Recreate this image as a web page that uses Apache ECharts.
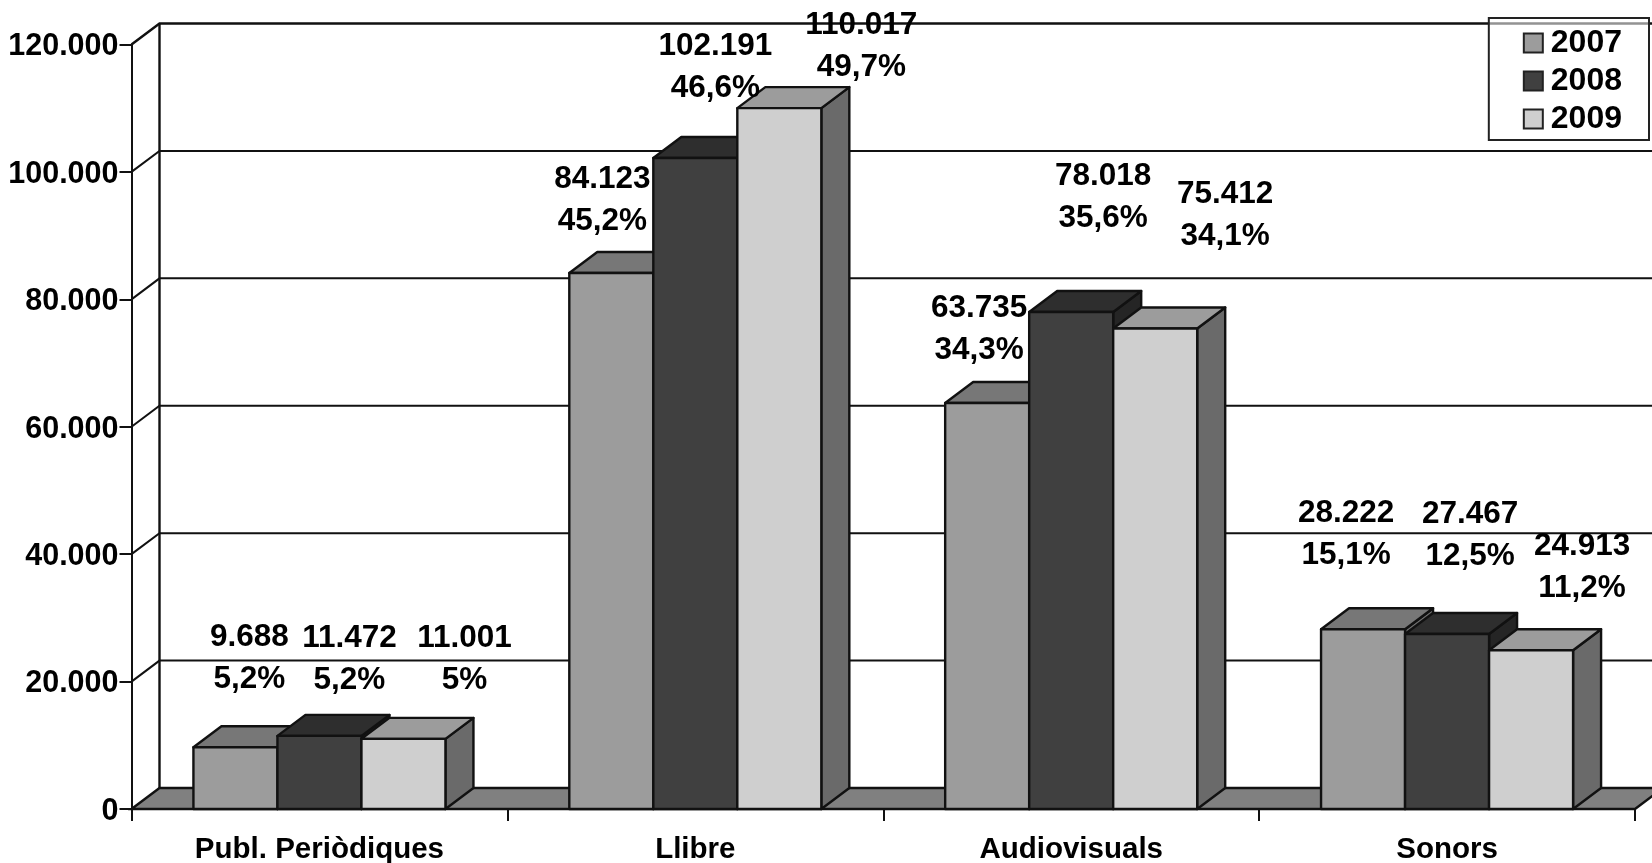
<!DOCTYPE html>
<html>
<head>
<meta charset="utf-8">
<style>
  html, body { margin: 0; padding: 0; background: #fff; }
  #chart { width: 1652px; height: 863px; }
</style>
<script src="https://cdn.jsdelivr.net/npm/echarts@6/dist/echarts.min.js"></script>
</head>
<body>
<div id="chart"></div>
<script>
const categories = ['Publ. Periòdiques', 'Llibre', 'Audiovisuals', 'Sonors']
const years = ['2007', '2008', '2009']
const values2007 = [9688, 84123, 63735, 28222]
const values2008 = [11472, 102191, 78018, 27467]
const values2009 = [11001, 110017, 75412, 24913]
const share2007 = ['5,2%', '45,2%', '34,3%', '15,1%']
const share2008 = ['5,2%', '46,6%', '35,6%', '12,5%']
const share2009 = ['5%', '49,7%', '34,1%', '11,2%']
const yTicks = [20000, 40000, 60000, 80000, 100000, 120000]

// 3D look: front face colour, top, side
const faces = [
  { front: '#9c9c9c', top: '#777777', side: '#6e6e6e' },
  { front: '#404040', top: '#2e2e2e', side: '#252525' },
  { front: '#cfcfcf', top: '#9c9c9c', side: '#6a6a6a' }
]
const DEPTH_X = 28
const DEPTH_Y = 21
const BAR_RATIO = 0.2235
const FONT = '"Liberation Sans", Arial, sans-serif'
const INK = '#111'

// the labels were placed by hand in the original, so nudge each one off its bar top (year -> category)
const labelNudge = [
  [[14, -89], [-9, -73], [-8, -74], [-17, -95]],
  [[30, -77], [20, -91], [32, -115], [23, -99]],
  [[61, -80], [82, -62], [70, -113], [51, -83]]
]

const allValues = [values2007, values2008, values2009]
const allShares = [share2007, share2008, share2009]

function fmt(v) {
  return String(v).replace(/\B(?=(\d{3})+$)/g, '.')
}

function renderWall(params, api) {
  const cs = params.coordSys
  const y = api.coord([0, api.value(1)])[1]
  const left = cs.x
  return {
    type: 'polyline',
    shape: { points: [[left, y], [left + DEPTH_X, y - DEPTH_Y], [left + cs.width + DEPTH_X, y - DEPTH_Y]] },
    style: { fill: 'none', stroke: INK, lineWidth: api.value(1) === 120000 ? 2.5 : 2 }
  }
}

function renderFloor(params, api) {
  const cs = params.coordSys
  const y0 = api.coord([0, 0])[1]
  const yTop = api.coord([0, 120000])[1]
  const left = cs.x
  const right = cs.x + cs.width
  return {
    type: 'group',
    children: [
      {
        type: 'polygon',
        shape: { points: [[left, y0], [left + DEPTH_X, y0 - DEPTH_Y], [right + DEPTH_X, y0 - DEPTH_Y], [right, y0]] },
        style: { fill: '#808080', stroke: INK, lineWidth: 2.4 }
      },
      {
        type: 'line',
        shape: { x1: left + DEPTH_X, y1: y0 - DEPTH_Y, x2: left + DEPTH_X, y2: yTop - DEPTH_Y },
        style: { stroke: INK, lineWidth: 2.4 }
      }
    ]
  }
}

function renderBar(yearIdx) {
  return (params, api) => {
    const cat = api.value(0)
    const band = api.size([1, 0])[0]
    const w = band * BAR_RATIO
    const cx = api.coord([cat, 0])[0]
    const y0 = api.coord([cat, 0])[1]
    const y1 = api.coord([cat, api.value(1)])[1]
    const x0 = cx - 1.5 * w + yearIdx * w
    const x1 = x0 + w
    const f = faces[yearIdx]
    const edge = { stroke: INK, lineWidth: 2.4, lineJoin: 'round' }
    return {
      type: 'group',
      children: [
        {
          type: 'polygon',
          shape: { points: [[x1, y1], [x1 + DEPTH_X, y1 - DEPTH_Y], [x1 + DEPTH_X, y0 - DEPTH_Y], [x1, y0]] },
          style: { fill: f.side, ...edge }
        },
        {
          type: 'polygon',
          shape: { points: [[x0, y1], [x0 + DEPTH_X, y1 - DEPTH_Y], [x1 + DEPTH_X, y1 - DEPTH_Y], [x1, y1]] },
          style: { fill: f.top, ...edge }
        },
        {
          type: 'rect',
          shape: { x: x0, y: y1, width: w, height: y0 - y1 },
          style: { fill: f.front, ...edge }
        }
      ]
    }
  }
}

function renderLabel(params, api) {
  const cat = api.value(0)
  const yearIdx = api.value(2)
  const band = api.size([1, 0])[0]
  const w = band * BAR_RATIO
  const p = api.coord([cat, api.value(1)])
  const nudge = labelNudge[yearIdx][cat]
  return {
    type: 'text',
    x: p[0] - w + yearIdx * w + nudge[0],
    y: p[1] + nudge[1],
    style: {
      text: fmt(api.value(1)) + '\n' + allShares[yearIdx][cat],
      fontFamily: FONT,
      fontWeight: 'bold',
      fontSize: 31.5,
      lineHeight: 42,
      fill: '#000',
      align: 'center',
      verticalAlign: 'middle'
    }
  }
}

const barSeries = years.map((year, j) => ({
  name: year,
  type: 'custom',
  renderItem: renderBar(j),
  encode: { x: 0, y: 1 },
  data: allValues[j].map((v, i) => [i, v]),
  itemStyle: { color: faces[j].front },
  silent: true
}))

const labelRows = []
allValues.forEach((vals, j) => vals.forEach((v, i) => labelRows.push([i, v, j])))

const chart = echarts.init(document.getElementById('chart'))
chart.setOption({
  animation: false,
  backgroundColor: '#fff',
  grid: { left: 131.5, right: 17, top: 44.5, bottom: 54, outerBoundsMode: 'none' },
  legend: {
    orient: 'vertical',
    right: 3,
    top: 18,
    padding: [9, 27, 5, 34],
    itemWidth: 19,
    itemHeight: 19,
    itemGap: 6,
    backgroundColor: 'rgba(255,255,255,0.55)',
    borderColor: '#222',
    borderWidth: 2,
    borderRadius: 0,
    textStyle: { fontFamily: FONT, fontWeight: 'bold', fontSize: 32, color: '#000', padding: [0, 0, 0, 3] },
    data: years.map((y, j) => ({
      name: y,
      icon: 'rect',
      itemStyle: { color: faces[j].front, borderColor: '#222', borderWidth: 2 }
    }))
  },
  xAxis: {
    type: 'category',
    data: categories,
    axisLine: { lineStyle: { color: INK, width: 2 } },
    axisTick: { show: true, alignWithLabel: false, length: 12, lineStyle: { color: INK, width: 2 } },
    axisLabel: { margin: 26, fontFamily: FONT, fontWeight: 'bold', fontSize: 29.5, color: '#000' },
    splitLine: { show: false }
  },
  yAxis: {
    type: 'value',
    min: 0,
    max: 120000,
    interval: 20000,
    axisLine: { show: true, lineStyle: { color: INK, width: 2 } },
    axisTick: { show: true, length: 12, lineStyle: { color: INK, width: 2 } },
    // top-aligned with a short line box, so the digits sit on the tick like the original
    axisLabel: { margin: 13, verticalAlign: 'top', lineHeight: 5, fontFamily: FONT, fontWeight: 'bold', fontSize: 30.5, color: '#000', formatter: fmt },
    splitLine: { show: false }
  },
  series: [
    {
      type: 'custom',
      renderItem: renderWall,
      encode: { x: 0, y: 1 },
      data: yTicks.map(v => [0, v]),
      silent: true
    },
    {
      type: 'custom',
      renderItem: renderFloor,
      encode: { x: 0, y: 1 },
      data: [[0, 0]],
      silent: true
    },
    ...barSeries,
    {
      type: 'custom',
      renderItem: renderLabel,
      encode: { x: 0, y: 1 },
      data: labelRows,
      silent: true
    }
  ]
})
</script>
</body>
</html>
